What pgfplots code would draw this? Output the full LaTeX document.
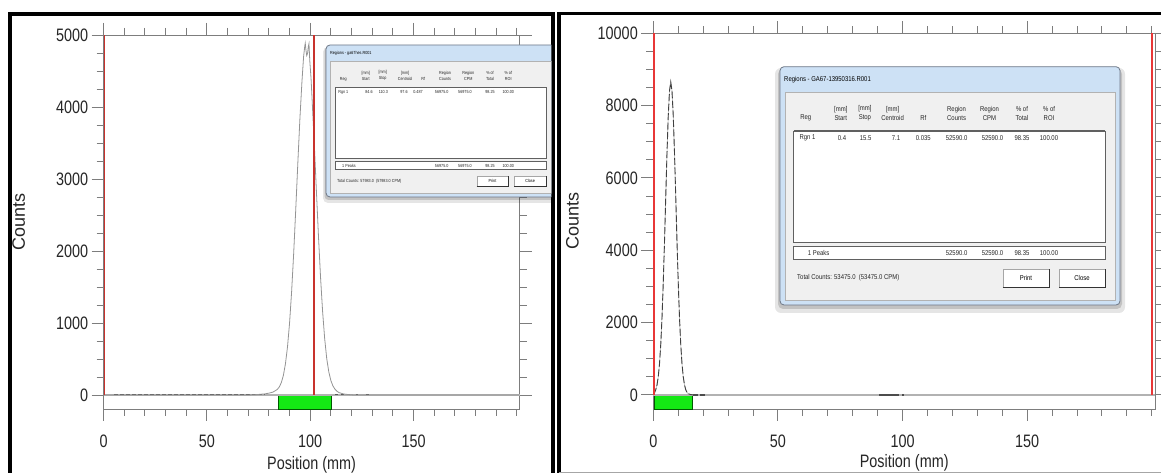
\documentclass[border=0pt]{standalone}
\usepackage{pgfplots}
\pgfplotsset{compat=1.18}
\usepackage{fontspec}
\setmainfont{Liberation Sans}[FakeStretch=0.8]
\newfontfamily\plainsans{Liberation Sans}
\newfontfamily\dlg{Liberation Sans}[FakeStretch=0.85]
\newcommand{\dlgR}{\dlg\fontsize{7}{9.5}\selectfont}
\newcommand{\dlgL}{\dlg\fontsize{4.4}{6}\selectfont}
\definecolor{axgray}{RGB}{125,125,125}
\definecolor{gbar}{RGB}{20,232,20}
\definecolor{dlgblue}{RGB}{205,225,245}
\definecolor{dlgpanel}{RGB}{240,240,240}
\definecolor{dlgedge}{RGB}{110,120,135}
\definecolor{redA}{RGB}{200,50,45}
\definecolor{redB}{RGB}{232,55,55}
\pgfplotsset{
  tlcstyle/.style={
    scale only axis,
    axis line style={axgray, line width=0.9pt},
    tick align=outside,
    xtick pos=both, ytick pos=both,
    xticklabel pos=left, yticklabel pos=left,
    every tick/.style={axgray, line width=0.9pt},
    major tick length=12pt,
    minor tick length=7pt,
    ticklabel style={font=\fontsize{18}{20}\selectfont, text=black!85},
    xticklabel shift=10pt,
    /pgf/number format/assume math mode=true,
    /pgf/number format/1000 sep={},
    scaled ticks=false,
    xlabel={Position (mm)},
    ylabel={Counts},
    xlabel style={font=\fontsize{18}{20}\selectfont, text=black!85},
    ylabel style={font=\plainsans\fontsize{18}{20}\selectfont, text=black!85},
    clip=false,
  }
}
\begin{document}
\begin{tikzpicture}
\useasboundingbox (0,0) rectangle (1161pt,473pt);
\fill[white] (0,0) rectangle (1161pt,473pt);

% ---------------- left panel ----------------
\begin{axis}[tlcstyle,
  at={(103.6pt,64pt)}, anchor=south west,
  width=415.9pt, height=374pt,
  xmin=0, xmax=201.3, ymin=-195, ymax=5000,
  xtick={0,50,100,150}, minor xtick={0,10,...,200},
  ytick={0,1000,...,5000}, minor ytick={250,500,...,4750},
  ylabel shift=24pt, xlabel shift=2pt]
\addplot[fill=gbar, draw=green!35!black, line width=0.8pt] coordinates {(84.6,-195)(84.6,0)(110.3,0)(110.3,-195)(84.6,-195)};
\addplot[color=black!30, line width=1.3pt] coordinates {(0,0)(201.3,0)};
\addplot[color=black!65, line width=1pt, dash pattern=on 4pt off 2pt] coordinates {(5,0)(78,0)};
\addplot[color=black!65, line width=1pt, dash pattern=on 3pt off 3pt] coordinates {(112,0)(119,0)};
\addplot[color=black!65, line width=1pt] coordinates {(122,0)(123,0)};
\addplot[color=black!65, line width=1pt] coordinates {(127,0)(128.5,0)};
\addplot[color=black!42, line width=0.8pt] coordinates {
(0,0)(70,0)(74,5)(78,15)(80,25)(82,40)(84,75)(85,110)(86,170)(87,270)(88,430)
(89,665)(90,996)(91,1434)(92,1968)(93,2576)(94,3216)(95,3831)(96,4352)(96.8,4700)
(97.3,4830)(97.6,4885)(97.9,4800)(98.3,4715)(98.7,4740)(99.1,4840)(99.4,4880)
(99.8,4640)(100.4,4400)(101,4055)(102,3469)(103,2831)(104,2204)(105,1636)(106,1159)
(107,783)(108,505)(109,320)(110,200)(111,125)(112,80)(113,50)(114,32)(116,15)(118,7)(121,0)(201,0)};
\addplot[color=redA, line width=1.6pt] coordinates {(0.35,0)(0.35,5000)};
\addplot[color=redA, line width=1.6pt] coordinates {(101.75,0)(101.75,5000)};
\end{axis}

% ---------------- right panel ----------------
\begin{axis}[tlcstyle,
  at={(653.3pt,64pt)}, anchor=south west,
  width=501.7pt, height=375.7pt,
  xmin=0, xmax=201.3, ymin=-390, ymax=10000,
  xtick={0,50,100,150}, minor xtick={0,10,...,200},
  ytick={0,2000,...,10000}, minor ytick={500,1000,...,9500},
  ylabel shift=12pt, xlabel shift=0pt]
\addplot[fill=gbar, draw=green!35!black, line width=0.8pt] coordinates {(0.4,-390)(0.4,0)(15.5,0)(15.5,-390)(0.4,-390)};
\addplot[color=black!30, line width=1.3pt] coordinates {(0,0)(201.3,0)};
\addplot[color=black!70, line width=1.3pt, dash pattern=on 5pt off 2pt] coordinates {(15.8,0)(21,0)};
\addplot[color=black!70, line width=1.3pt] coordinates {(90.6,0)(98.5,0)};
\addplot[color=black!70, line width=1.3pt] coordinates {(99.8,0)(100.4,0)};
\addplot[color=black!30, line width=0.6pt] coordinates {
(0,10)(0.5,60)(1,146)(1.5,280)(2,509)(2.5,870)(3,1410)(3.5,2150)(4,3117)(4.5,4250)
(5,5496)(5.5,6700)(6,7723)(6.5,8408)(7,8650)(7.5,8408)(8,7723)(8.5,6700)(9,5496)
(9.5,4250)(10,3117)(10.5,2150)(11,1410)(11.5,870)(12,509)(12.5,280)(13,146)(13.5,70)
(14,33)(15,8)(16,0)};
\addplot[color=black!75, line width=0.9pt, dash pattern=on 7pt off 2.5pt] coordinates {
(0,10)(0.5,60)(1,146)(1.5,280)(2,509)(2.5,870)(3,1410)(3.5,2150)(4,3117)(4.5,4250)
(5,5496)(5.5,6700)(6,7723)(6.5,8408)(7,8650)(7.5,8408)(8,7723)(8.5,6700)(9,5496)
(9.5,4250)(10,3117)(10.5,2150)(11,1410)(11.5,870)(12,509)(12.5,280)(13,146)(13.5,70)
(14,33)(15,8)(16,0)};
\addplot[color=redB, line width=1.6pt] coordinates {(0.3,0)(0.3,10000)};
\addplot[color=redB, line width=1.6pt] coordinates {(200,0)(200,10000)};
\end{axis}

% ---------------- frames and dialogs (pixel coordinates) ----------------
\begin{scope}[x=1pt,y=-1pt,yshift=473pt]
\draw[black, line width=4pt] (9.5,480) -- (9.5,13.7) -- (553.4,13.7) -- (553.4,480);
\draw[black, line width=3.5pt] (559.2,480) -- (559.2,13.7) -- (1170,13.7);
\draw[gray!70, line width=1pt] (559,472.5) -- (1161,472.5);

% right dialog
\fill[black,opacity=0.10,rounded corners=6pt] (775,68) rectangle (1125,313);
\fill[black,opacity=0.15,rounded corners=5pt] (778,69) rectangle (1122,309);
\draw[fill=dlgblue, draw=dlgedge, rounded corners=4pt, line width=0.8pt] (780,66.7) rectangle (1120,305);
\node[anchor=west, font=\dlgR, inner sep=0pt] at (784,80) {Regions - GA67-13950316.R001};
\draw[fill=dlgpanel, draw=gray!60] (785,92) rectangle (1115,300);
\begin{scope}[every node/.style={font=\dlgR, inner sep=0pt, align=center, text=black!85}]
\node at (805.7,118.3) {Reg};
\node at (840.8,113.3) {[mm]\\Start};
\node at (864.9,113.3) {[mm]\\Stop};
\node at (892.6,113.3) {[mm]\\Centroid};
\node at (923.3,118.3) {Rf};
\node at (956.6,113.3) {Region\\Counts};
\node at (989.5,113.3) {Region\\CPM};
\node at (1022,113.3) {\% of\\Total};
\node at (1049,113.3) {\% of\\ROI};
\end{scope}
\draw[fill=white, draw=gray!75!black, line width=0.8pt] (793.8,131) rectangle (1105.3,242.7);
\draw[gray!75!black, line width=1.6pt] (793.8,131) -- (1105.3,131);
\begin{scope}[every node/.style={font=\dlgR, inner sep=0pt, text=black!85}]
\node at (807.5,138) {Rgn 1};
\node at (842,138) {0.4};
\node at (865.6,138) {15.5};
\node at (896,138) {7.1};
\node at (923.3,138) {0.035};
\node at (956.6,138) {52590.0};
\node at (992.5,138) {52590.0};
\node at (1022,138) {98.35};
\node at (1049,138) {100.00};
\end{scope}
\draw[fill=white, draw=gray!75!black, line width=0.8pt] (793.8,246.7) rectangle (1105.3,259.3);
\draw[gray!75!black, line width=1.6pt] (793.8,246.7) -- (1105.3,246.7);
\begin{scope}[every node/.style={font=\dlgR, inner sep=0pt, text=black!85}]
\node at (818.6,253) {1 Peaks};
\node at (956.6,253) {52590.0};
\node at (992.5,253) {52590.0};
\node at (1022,253) {98.35};
\node at (1049,253) {100.00};
\node[anchor=west] at (797,278) {Total Counts: 53475.0 \ (53475.0 CPM)};
\end{scope}
\draw[fill=white, draw=gray!70] (1002.9,269) rectangle (1049,287);
\draw[gray!40!black, line width=0.8pt] (1002.9,287) -- (1049,287) -- (1049,269);
\node[font=\dlgR, inner sep=0pt] at (1026,278) {Print};
\draw[fill=white, draw=gray!70] (1059,269) rectangle (1105,287);
\draw[gray!40!black, line width=0.8pt] (1059,287) -- (1105,287) -- (1105,269);
\node[font=\dlgR, inner sep=0pt] at (1082,278) {Close};

% left dialog (clipped at panel border)
\begin{scope}
\clip (318,40) rectangle (551.4,210);
\fill[black,opacity=0.10,rounded corners=5pt] (323,47) rectangle (560,203);
\fill[black,opacity=0.15,rounded corners=4pt] (324.5,47) rectangle (560,200);
\draw[fill=dlgblue, draw=dlgedge, rounded corners=4pt, line width=0.8pt] (326,45) rectangle (565,197);
\node[anchor=west, font=\dlgL, inner sep=0pt] at (330,53) {Regions - ga67hes.R001};
\draw[fill=dlgpanel, draw=gray!60] (330,61) rectangle (560,193);
\begin{scope}[every node/.style={font=\dlgL, inner sep=0pt, align=center, text=black!85}]
\node at (343.3,79.3) {Reg};
\node at (365.7,75.5) {[mm]\\Start};
\node at (382.7,75.5) {[mm]\\Stop};
\node at (405,75.5) {[mm]\\Centroid};
\node at (423.3,79.3) {Rf};
\node at (445,75.5) {Region\\Counts};
\node at (468.3,75.5) {Region\\CPM};
\node at (490,75.5) {\% of\\Total};
\node at (508.3,75.5) {\% of\\ROI};
\end{scope}
\draw[fill=white, draw=gray!75!black, line width=0.7pt] (335,87.7) rectangle (546,158.3);
\draw[gray!75!black, line width=1.2pt] (335,87.7) -- (546,87.7);
\begin{scope}[every node/.style={font=\dlgL, inner sep=0pt, text=black!85}]
\node at (343.3,92.3) {Rgn 1};
\node at (369,92.3) {84.6};
\node at (383.3,92.3) {110.3};
\node at (404,92.3) {97.6};
\node at (418,92.3) {0.487};
\node at (441.7,92.3) {56975.0};
\node at (465,92.3) {56975.0};
\node at (490,92.3) {98.25};
\node at (508.3,92.3) {100.00};
\end{scope}
\draw[fill=white, draw=gray!75!black, line width=0.7pt] (335,161.7) rectangle (546,169.3);
\draw[gray!75!black, line width=1.1pt] (335,161.7) -- (546,161.7);
\begin{scope}[every node/.style={font=\dlgL, inner sep=0pt, text=black!85}]
\node at (349,165.5) {1 Peaks};
\node at (441.7,165.5) {56975.0};
\node at (465,165.5) {56975.0};
\node at (490,165.5) {98.25};
\node at (508.3,165.5) {100.00};
\node[anchor=west] at (337,181.7) {Total Counts: 57983.0 \ (57983.0 CPM)};
\end{scope}
\draw[fill=white, draw=gray!70] (476.7,176) rectangle (508.3,186.7);
\draw[gray!40!black, line width=0.6pt] (476.7,186.7) -- (508.3,186.7) -- (508.3,176);
\node[font=\dlgL, inner sep=0pt] at (492.5,181.4) {Print};
\draw[fill=white, draw=gray!70] (514.3,176) rectangle (546,186.7);
\draw[gray!40!black, line width=0.6pt] (514.3,186.7) -- (546,186.7) -- (546,176);
\node[font=\dlgL, inner sep=0pt] at (530.1,181.4) {Close};
\end{scope}
\end{scope}
\end{tikzpicture}
\end{document}
